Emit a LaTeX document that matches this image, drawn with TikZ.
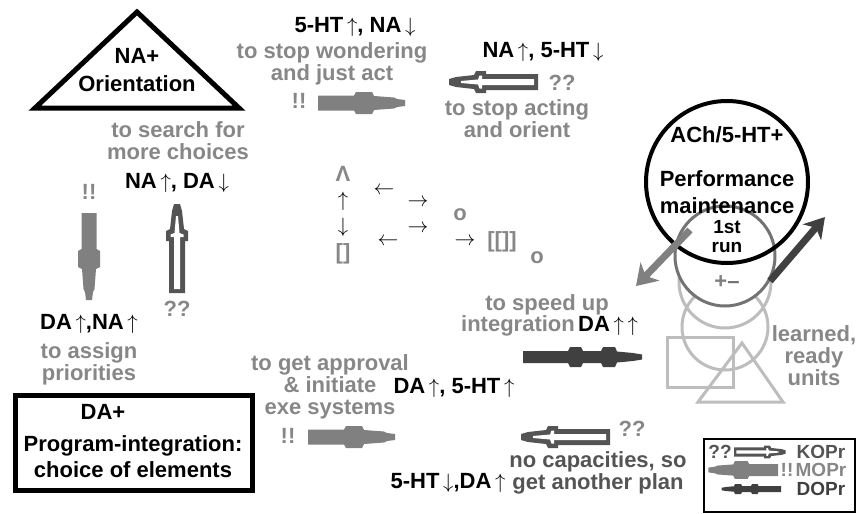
\documentclass[tikz,border=0pt]{standalone}
\usepackage{fontspec}
\setmainfont{Liberation Sans}
\usetikzlibrary{positioning,arrows.meta}

\definecolor{txtgray}{gray}{0.53}
\definecolor{mopgray}{gray}{0.5}
\definecolor{kopdark}{gray}{0.33}
\definecolor{dopdark}{gray}{0.25}
\definecolor{rungray}{gray}{0.45}
\definecolor{unitgray}{gray}{0.74}

\newcommand\upa{\,$\uparrow$}
\newcommand\dna{\,$\downarrow$}

\tikzset{
  lab/.style={font=\fontsize{22}{22}\selectfont\bfseries, inner sep=1pt},
  note/.style={lab, text=txtgray, align=center},
  legendlab/.style={font=\fontsize{19}{19}\selectfont\bfseries, inner sep=1pt},
  thinarr/.style={font=\fontsize{22}{22}\selectfont, inner sep=0pt},
  % the three arrow icons, tail at origin, tip on +x
  mopr/.pic={
    \fill[mopgray] (0,-7.5) -- (36,-7.5) -- (38,-11) -- (54,-11) -- (56,-7) -- (76,-5.5) -- (79,-4)
      -- (87,-3) -- (87,3) -- (79,4) -- (76,5.5) -- (56,7) -- (54,11) -- (38,11) -- (36,7.5) -- (0,7.5) -- cycle;
  },
  kopr/.pic={
    \fill[kopdark] (0,-8) -- (52,-8) -- (52,-11) -- (62,-11) -- (64,-7) -- (82,-5) -- (89,-3)
      -- (89,3) -- (82,5) -- (64,7) -- (62,11) -- (52,11) -- (52,8) -- (0,8) -- cycle;
    \fill[white] (4,-3) -- (56,-3) -- (56,-6.5) -- (58.5,-6.5) -- (60,-2.5) -- (77,-1)
      -- (77,1) -- (60,2.5) -- (58.5,6.5) -- (56,6.5) -- (56,3) -- (4,3) -- cycle;
  },
  dopr/.pic={
    \fill[dopdark] (0,-6) -- (45,-6) -- (47,-10) -- (58,-10) -- (60,-6) -- (78,-6) -- (80,-10) -- (92,-10)
      -- (94,-5.5) -- (110,-4) -- (119,-2.5) -- (119,2.5) -- (110,4) -- (94,5.5) -- (92,10) -- (80,10) -- (78,6)
      -- (60,6) -- (58,10) -- (47,10) -- (45,6) -- (0,6) -- cycle;
  },
}

\begin{document}
\begin{tikzpicture}[x=1pt,y=-1pt]
\useasboundingbox (0,0) rectangle (857,514);

% orientation
\draw[line width=5pt] (137,12) -- (239,108) -- (35,108) -- cycle;
\node (orient) at (137,70) [lab, align=center] {NA+\\[6pt]Orientation};

% top: wondering -> act
\node (htup) at (355,27) [lab] {5-HT\upa, NA\dna};
\node (wonder) at (332,64) [note] {to stop wondering\\and just act};
\node (excltop) at (299,101) [lab, text=txtgray] {!!};
\pic (acttop) at (318,103) {mopr};

% top right: act -> orient
\node (naup2) at (543,52) [lab] {NA\upa, 5-HT\dna};
\pic (orienttop) [rotate=180] at (538,82) {kopr};
\node (questtop) at (562,83) [lab, text=txtgray] {??};
\node (stopact) at (517,119) [note] {to stop acting\\and orient};

% left: orientation <-> program
\node (search) at (178,141) [note] {to search for\\more choices};
\node (naup) at (177,183) [lab] {NA\upa, DA\dna};
\node (exclleft) at (89,192) [lab, text=txtgray] {!!};
\pic (assignleft) [rotate=-90] at (89,213) {mopr};
\pic (searchleft) [rotate=90] at (177,293) {kopr};
\node (questleft) at (177,309) [lab, text=txtgray] {??};
\node (daup) at (89,324) [lab] {DA\upa,NA\upa};
\node (assign) at (89,364) [note] {to assign\\priorities};

% program box
\draw[line width=5pt] (15,395) rectangle (252,490);
\node (da) at (103,412) [lab] {DA+};
\node (prog) at (133,457) [lab, align=center] {Program-integration:\\[4pt]choice of elements};

% middle symbols
\node (wedge) at (343,174) [lab, text=txtgray] {Λ};
\node (symup) at (343,201) [thinarr] {$\uparrow$};
\node (symdown) at (343,227) [thinarr] {$\downarrow$};
\node (sq) at (343,254) [lab, text=txtgray] {[]};
\node (la) at (384,191) [thinarr] {$\leftarrow$};
\node (ra) at (418,203) [thinarr] {$\rightarrow$};
\node (rb) at (418,229) [thinarr] {$\rightarrow$};
\node (lb) at (388,242) [thinarr] {$\leftarrow$};
\node (oa) at (460,215) [lab, text=txtgray] {o};
\node (rc) at (465,242) [thinarr] {$\rightarrow$};
\node (sqsq) at (502,242) [lab, text=txtgray] {[[]]};
\node (ob) at (537,258) [lab, text=txtgray] {o};

% bottom: program -> performance
\node (approval) at (330,387) [note] {to get approval\\\& initiate\\exe systems};
\node (exclbot) at (288,436) [lab, text=txtgray] {!!};
\pic (approvebot) at (308,437) {mopr};
\node (dahtup) at (454,388) [lab] {DA\upa, 5-HT\upa};
\node (speed) at (547,305) [lab, text=txtgray] {to speed up};
\node (integ) at (518,326) [lab, text=txtgray] {integration};
\node (dauu) [lab, right=1pt of integ] {DA\upa\upa};
\pic (speedbot) at (523,357) {dopr};

% bottom right: back to program
\pic (nocap) [rotate=180] at (610,437) {kopr};
\node (questbot) at (632,429) [lab, text=txtgray] {??};
\node (htdown) at (448,483) [lab] {5-HT\dna,DA\upa};
\node (noplan) at (598,473) [lab, text=kopdark, align=center] {no capacities, so\\get another plan};

% learned units
\draw[unitgray, line width=3pt] (725,327) circle (43pt);
\draw[unitgray, line width=3pt] (725,282) circle (46pt);
\draw[unitgray, line width=3pt] (667,337) rectangle (733,387);
\draw[unitgray, line width=3pt] (742,343) -- (783,402) -- (698,402) -- cycle;
\node (learned) at (814,356) [note] {learned,\\ready\\units};

% first run and performance
\node (run) at (725,256) [circle, draw=rungray, fill=white, line width=3pt, minimum size=100pt] {};
\node (perf) at (727,182) [circle, draw, line width=4pt, minimum size=162pt] {};
\node (ach) at (727,135) [lab] {ACh/5-HT+};
\node (pm) at (727,192) [lab, align=center] {Performance\\[5pt]maintenance};
\node (first) at (727,237) [legendlab, align=center] {1st\\run};
\node (pm2) at (727,282) [lab] {{\color{gray}+}{\color{rungray}–}};

\coordinate (lstart) at (690,230);
\coordinate (lend) at (636,286);
\coordinate (rstart) at (770,281);
\coordinate (rend) at (825,217);
\draw[mopgray, line width=7pt, -{Stealth[length=20pt,width=26pt,inset=6pt]}] (lstart) -- (lend);
\draw[dopdark, line width=7pt, -{Stealth[length=20pt,width=24pt,inset=6pt]}] (rstart) -- (rend);

% legend
\draw[line width=1.5pt] (704,439) rectangle (855,512);
\node (lq) at (720,452) [legendlab, text=kopdark] {??};
\pic (lkop) [scale=0.58] at (734,452) {kopr};
\node (lkoptxt) at (821,452) [legendlab, text=kopdark] {KOPr};
\pic (lmop) [rotate=180, scale=0.8] at (778,470) {mopr};
\node (le) at (787,470) [legendlab, text=txtgray] {!!};
\node (lmoptxt) at (821,470) [legendlab, text=txtgray] {MOPr};
\pic (ldop) [rotate=180, scale=0.5] at (781,489) {dopr};
\node (ldoptxt) at (821,489) [legendlab, text=dopdark] {DOPr};
\end{tikzpicture}
\end{document}
